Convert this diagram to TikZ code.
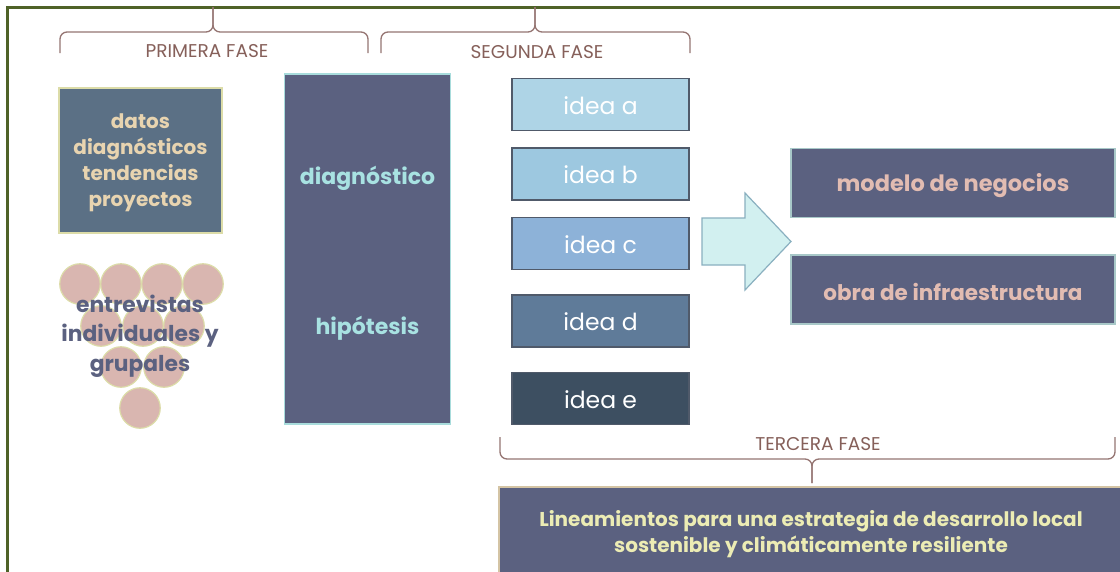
\documentclass[tikz,border=0pt]{standalone}
\usepackage{fontspec}
\setmainfont{Poppins}
\definecolor{framec}{HTML}{4F6228}
\definecolor{bracec}{HTML}{957572}
\definecolor{phasec}{HTML}{86605A}
\definecolor{slatec}{HTML}{5B6180}
\definecolor{datosc}{HTML}{5B7085}
\definecolor{beigec}{HTML}{E8D4B0}
\definecolor{paleyc}{HTML}{DCDCA8}
\definecolor{circc}{HTML}{D9B6B0}
\definecolor{cyanc}{HTML}{A8E2E2}
\definecolor{cyanb}{HTML}{A8DCDC}
\definecolor{ideab}{HTML}{505A6A}
\definecolor{ideaA}{HTML}{AED4E6}
\definecolor{ideaB}{HTML}{9DC8E0}
\definecolor{ideaC}{HTML}{8DB2D8}
\definecolor{ideaD}{HTML}{5F7B99}
\definecolor{ideaE}{HTML}{3D4F61}
\definecolor{arrowf}{HTML}{D2F0F0}
\definecolor{arrowb}{HTML}{8AB0C0}
\definecolor{modelt}{HTML}{E2BCB2}
\definecolor{modelb}{HTML}{A8C8C8}
\definecolor{linet}{HTML}{ECECB4}
\definecolor{lineb}{HTML}{D4C4A4}
\begin{document}
\begin{tikzpicture}[x=1pt,y=-1pt,
  brace/.style={draw=bracec, line width=1.3pt, rounded corners=7pt},
  phase/.style={text=phasec, font=\fontsize{18.5}{22}\selectfont, inner sep=0pt},
  ideabox/.style={draw=ideab, line width=1.3pt, minimum width=177pt, minimum height=52pt, text=white, font=\fontsize{23.5}{28}\selectfont, inner sep=0pt},
  bigbox/.style={draw=modelb, line width=1.3pt, fill=slatec, minimum width=324pt, minimum height=69pt, inner sep=0pt},
  circ/.style={circle, draw=paleyc, line width=1.2pt, fill=circc, minimum size=40.5pt, inner sep=0pt},
  boldtxt/.style={font=\bfseries\fontsize{20}{26}\selectfont, align=center, inner sep=0pt}
]
\useasboundingbox (0,0) rectangle (1120,571);
\clip (0,0) rectangle (1120,571);
\fill[white] (0,0) rectangle (1120,571);
% outer frame
\draw[framec, line width=2.2pt] (7.5,7.5) rectangle (1150,620);
% braces
\draw[brace] (60,53) -- (60,32) -- (213,32) -- (213,7);
\draw[brace] (213,7) -- (213,32) -- (368,32) -- (368,53);
\draw[brace] (381,53) -- (381,32) -- (535,32) -- (535,7);
\draw[brace] (535,7) -- (535,32) -- (690,32) -- (690,53);
\draw[brace] (500,437) -- (500,459) -- (812,459) -- (812,483);
\draw[brace] (812,483) -- (812,459) -- (1115,459) -- (1115,437);
\node[phase] (p1) at (207,51.5) {PRIMERA FASE};
\node[phase] (p2) at (537,52.5) {SEGUNDA FASE};
\node[phase] (p3) at (818,444.5) {TERCERA FASE};
% datos box
\node[draw=paleyc, line width=1.3pt, fill=datosc, minimum width=163pt, minimum height=145pt, inner sep=0pt] (datos) at (140.5,160.5) {};
\node[boldtxt, text=beigec] (datostxt) at (140.5,162.5) {datos\\diagnósticos\\tendencias\\proyectos};
% circles
\node[circ] (c1) at (80,284) {};
\node[circ] (c2) at (121,284) {};
\node[circ] (c3) at (162,284) {};
\node[circ] (c4) at (203,284) {};
\node[circ] (c5) at (101,326) {};
\node[circ] (c6) at (143,326) {};
\node[circ] (c7) at (184,326) {};
\node[circ] (c8) at (121,367) {};
\node[circ] (c9) at (164,367) {};
\node[circ] (c10) at (140,408) {};
\node[boldtxt, text=slatec, font=\bfseries\fontsize{21.8}{29.5}\selectfont] (entrev) at (140,336) {entrevistas\\individuales y\\grupales};
% tall box
\node[draw=cyanb, line width=1.6pt, fill=slatec, minimum width=166pt, minimum height=350pt, inner sep=0pt] (tall) at (367.5,249) {};
\node[boldtxt, text=cyanc, font=\bfseries\fontsize{22}{26}\selectfont] (diag) at (367.5,178) {diagnóstico};
\node[boldtxt, text=cyanc, font=\bfseries\fontsize{22}{26}\selectfont] (hipo) at (367.5,328) {hipótesis};
% ideas
\node[ideabox, fill=ideaA] (ia) at (600.5,104.5) {};
\node[ideabox, fill=ideaB] (ib) at (600.5,174) {};
\node[ideabox, fill=ideaC] (ic) at (600.5,243.5) {};
\node[ideabox, fill=ideaD] (id) at (600.5,321) {};
\node[ideabox, fill=ideaE] (ie) at (600.5,398.5) {};
\foreach \n/\t in {ia/a, ib/b, ic/c, id/d, ie/e}
  \node[text=white, font=\fontsize{23.5}{28}\selectfont, inner sep=0pt] (\n txt) at ([yshift=-1pt]\n.center) {idea \t};
% block arrow
\draw[fill=arrowf, draw=arrowb, line width=1.2pt, line join=miter]
  (702,218) -- (745,218) -- (745,193) -- (791,241.5) -- (745,290) -- (745,265) -- (702,265) -- cycle;
% results
\node[bigbox] (modelo) at (953,183) {};
\node[bigbox] (obra) at (953,289.5) {};
\node[boldtxt, text=modelt, font=\bfseries\fontsize{22.5}{26}\selectfont] (modtxt) at (953,186) {modelo de negocios};
\node[boldtxt, text=modelt, font=\bfseries\fontsize{21.5}{26}\selectfont] (obratxt) at (953,292) {obra de infraestructura};
% lineamientos
\node[draw=lineb, line width=2pt, fill=slatec, minimum width=645pt, minimum height=120pt, inner sep=0pt] (linbox) at (821,547) {};
\node[boldtxt, text=linet, font=\bfseries\fontsize{20}{26}\selectfont] (lintxt) at (811,534) {Lineamientos para una estrategia de desarrollo local\\sostenible y climáticamente resiliente};
\end{tikzpicture}
\end{document}
